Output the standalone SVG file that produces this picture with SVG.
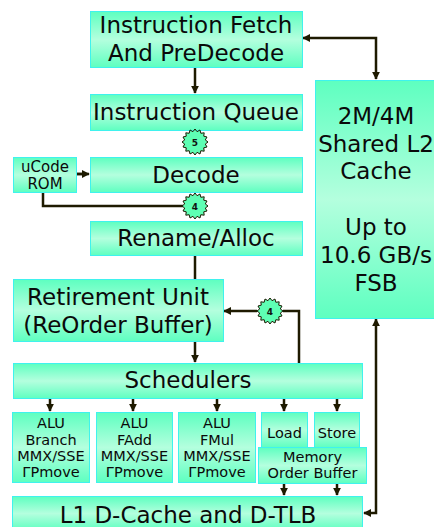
<svg xmlns="http://www.w3.org/2000/svg" width="434" height="527" viewBox="0 0 434 527">
<defs>
<linearGradient id="g" x1="0" y1="0" x2="0" y2="1">
<stop offset="0" stop-color="#5effc0"/>
<stop offset="0.5" stop-color="#b4ffde"/>
<stop offset="1" stop-color="#5effc0"/>
</linearGradient>
<marker id="ah" viewBox="0 0 10 10" refX="9" refY="5" markerWidth="3.2" markerHeight="3.2" orient="auto-start-reverse" markerUnits="strokeWidth">
<path d="M0,0 L10,5 L0,10 z" fill="#1e1a00"/>
</marker>
<polygon id="star" points="13,0 10.3,2.05 12.01,4.98 8.73,5.83 9.19,9.19 5.83,8.73 4.98,12.01 2.05,10.3 0,13 -2.05,10.3 -4.98,12.01 -5.83,8.73 -9.19,9.19 -8.73,5.83 -12.01,4.98 -10.3,2.05 -13,0 -10.3,-2.05 -12.01,-4.98 -8.73,-5.83 -9.19,-9.19 -5.83,-8.73 -4.98,-12.01 -2.05,-10.3 0,-13 2.05,-10.3 4.98,-12.01 5.83,-8.73 9.19,-9.19 8.73,-5.83 12.01,-4.98 10.3,-2.05"/>
</defs>
<style>
.box{fill:url(#g);stroke:#3ff2ee;stroke-width:1}
.t{font-family:"DejaVu Sans","Verdana",sans-serif;font-size:23px;fill:#0a0a0a;text-anchor:middle}
.s{font-family:"DejaVu Sans","Verdana",sans-serif;font-size:14.5px;fill:#0a0a0a;text-anchor:middle}
.c{fill:none;stroke:#1e1a00;stroke-width:2.5}
.a{marker-end:url(#ah)}
.b{marker-start:url(#ah);marker-end:url(#ah)}
.st{fill:#5effb4;stroke:#1a1a00;stroke-width:1}
.n{font-family:"DejaVu Sans",sans-serif;font-size:9px;font-weight:bold;fill:#111;text-anchor:middle}
</style>
<rect width="434" height="527" fill="#ffffff"/>

<g id="connectors">
<path class="c a" d="M195,67 V93"/>
<path class="c b" d="M303,38 H376 V79"/>
<path class="c" d="M77,174 H84"/>
<path class="c a" d="M77,174 H89"/>
<path class="c" d="M43,193 V206 H183"/>
<path class="c" d="M195,255 V279"/>
<path class="c a" d="M195,341 V362"/>
<path class="c" d="M299,363 V311 H283"/>
<path class="c a" d="M257,311 H224"/>
<path class="c b" d="M376,319 V513 H364"/>
<path class="c a" d="M50,398 V411"/>
<path class="c a" d="M133,398 V411"/>
<path class="c a" d="M217,398 V411"/>
<path class="c a" d="M284,398 V411"/>
<path class="c a" d="M337,398 V411"/>
<path class="c a" d="M284,483 V495"/>
<path class="c a" d="M337,483 V495"/>
</g>

<g id="fetch">
<rect class="box" x="90.5" y="11.5" width="212" height="56"/>
<text class="t" x="196" y="33">Instruction Fetch</text>
<text class="t" x="196" y="61">And PreDecode</text>
</g>
<g id="queue">
<rect class="box" x="90.5" y="94.5" width="212" height="36"/>
<text class="t" x="196" y="120">Instruction Queue</text>
</g>
<g id="star5">
<use href="#star" class="st" x="195" y="142"/>
<text class="n" x="195" y="145.5">5</text>
</g>
<g id="ucode">
<rect class="box" x="13.5" y="157.5" width="63" height="35"/>
<text class="s" x="45" y="172" style="font-size:15px">uCode</text>
<text class="s" x="45" y="189" style="font-size:15px">ROM</text>
</g>
<g id="decode">
<rect class="box" x="90.5" y="157.5" width="212" height="35"/>
<text class="t" x="196" y="183">Decode</text>
</g>
<g id="star4a">
<use href="#star" class="st" x="195" y="206"/>
<text class="n" x="195" y="209.5">4</text>
</g>
<g id="rename">
<rect class="box" x="90.5" y="221.5" width="212" height="34"/>
<text class="t" x="196" y="246">Rename/Alloc</text>
</g>
<g id="l2">
<rect class="box" x="315.5" y="80.5" width="122" height="238"/>
<text class="t" x="376" y="124">2M/4M</text>
<text class="t" x="376" y="152">Shared L2</text>
<text class="t" x="376" y="179">Cache</text>
<text class="t" x="376" y="235">Up to</text>
<text class="t" x="376" y="263">10.6 GB/s</text>
<text class="t" x="376" y="291">FSB</text>
</g>
<g id="retire">
<rect class="box" x="13.5" y="279.5" width="210" height="62"/>
<text class="t" x="118" y="305">Retirement Unit</text>
<text class="t" x="118" y="333">(ReOrder Buffer)</text>
</g>
<g id="star4b">
<use href="#star" class="st" x="270" y="311"/>
<text class="n" x="270" y="314.5">4</text>
</g>
<g id="sched">
<rect class="box" x="13.5" y="363.5" width="349" height="35"/>
<text class="t" x="188" y="388">Schedulers</text>
</g>
<g id="alu1">
<rect class="box" x="12.5" y="412.5" width="77" height="70"/>
<text class="s" x="51" y="428">ALU</text>
<text class="s" x="51" y="444.5">Branch</text>
<text class="s" x="51" y="461">MMX/SSE</text>
<text class="s" x="51" y="477">ΓPmove</text>
</g>
<g id="alu2">
<rect class="box" x="96.5" y="412.5" width="76" height="70"/>
<text class="s" x="134.5" y="428">ALU</text>
<text class="s" x="134.5" y="444.5">FAdd</text>
<text class="s" x="134.5" y="461">MMX/SSE</text>
<text class="s" x="134.5" y="477">ΓPmove</text>
</g>
<g id="alu3">
<rect class="box" x="178.5" y="412.5" width="77" height="70"/>
<text class="s" x="217" y="428">ALU</text>
<text class="s" x="217" y="444.5">FMul</text>
<text class="s" x="217" y="461">MMX/SSE</text>
<text class="s" x="217" y="477">ΓPmove</text>
</g>
<g id="load">
<rect class="box" x="261.5" y="412.5" width="46" height="35"/>
<text class="s" x="284.5" y="438">Load</text>
</g>
<g id="store">
<rect class="box" x="314.5" y="412.5" width="45" height="35"/>
<text class="s" x="337" y="438">Store</text>
</g>
<g id="mob">
<rect class="box" x="258.5" y="447.5" width="108" height="36"/>
<text class="s" x="312.5" y="462">Memory</text>
<text class="s" x="312.5" y="478">Order Buffer</text>
</g>
<g id="l1">
<rect class="box" x="12.5" y="496.5" width="350" height="34"/>
<text class="t" x="188" y="523">L1 D-Cache and D-TLB</text>
</g>
</svg>
